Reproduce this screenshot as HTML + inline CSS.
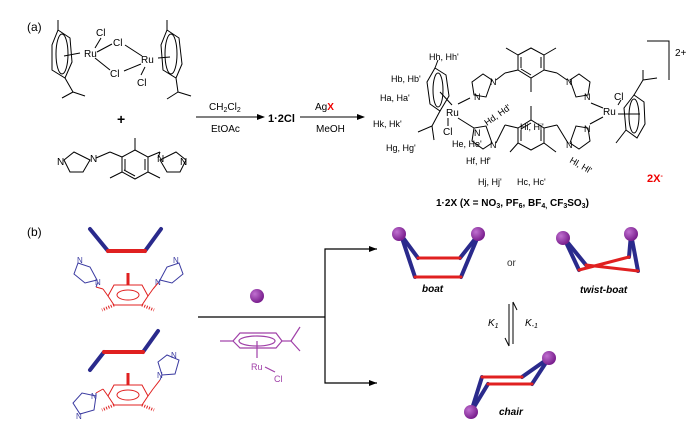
<!DOCTYPE html>
<html><head><meta charset="utf-8"><style>
html,body{margin:0;padding:0;background:#fff;}
svg{display:block;font-family:"Liberation Sans",Arial,sans-serif;}
</style></head><body>
<svg width="700" height="429" viewBox="0 0 700 429" xmlns="http://www.w3.org/2000/svg">
<defs>
<marker id="ah" markerWidth="8" markerHeight="6" refX="7" refY="3" orient="auto"><path d="M0,0 L8,3 L0,6 z" fill="#000"/></marker>
<radialGradient id="ball" cx="35%" cy="35%" r="65%"><stop offset="0" stop-color="#c070d0"/><stop offset="1" stop-color="#7a1f8e"/></radialGradient>
</defs>
<g fill="none" stroke="#000" stroke-width="1">
<polygon points="58,30 70,38 72,62 65,78 52,70 52,45"/>
<ellipse cx="62" cy="54" rx="6" ry="20"/>
<line x1="58" y1="30" x2="58" y2="20"/><line x1="65" y1="78" x2="73" y2="92"/><line x1="73" y1="92" x2="62" y2="98"/><line x1="73" y1="92" x2="85" y2="96"/>
<line x1="64" y1="56" x2="80" y2="53"/>
<line x1="95" y1="48" x2="101" y2="38"/><line x1="97" y1="52" x2="112" y2="44"/><line x1="95" y1="58" x2="110" y2="70"/>
<line x1="125" y1="45" x2="142" y2="56"/><line x1="124" y1="71" x2="141" y2="64"/><line x1="145" y1="67" x2="141" y2="75"/>
<polygon points="167,30 179,38 182,64 176,78 163,70 161,45"/>
<ellipse cx="171" cy="54" rx="6" ry="20"/>
<line x1="167" y1="30" x2="167" y2="20"/><line x1="176" y1="78" x2="178" y2="92"/><line x1="178" y1="92" x2="167" y2="99"/><line x1="178" y1="92" x2="191" y2="96"/>
<line x1="158" y1="58" x2="170" y2="57"/>
<polygon points="122,157 135,150 148,157 148,172 135,179 122,172"/>
<line x1="125" y1="159" x2="125" y2="170"/><line x1="145" y1="159" x2="145" y2="170"/><line x1="135" y1="176" x2="124" y2="170"/>
<line x1="135" y1="150" x2="135" y2="138"/><line x1="122" y1="172" x2="110" y2="178"/><line x1="148" y1="172" x2="160" y2="178"/>
<line x1="122" y1="157" x2="110" y2="152"/><line x1="110" y1="152" x2="96" y2="158"/>
<line x1="148" y1="157" x2="160" y2="152"/><line x1="160" y1="152" x2="158" y2="158"/>
<polygon points="90,160 83,172 70,172 64,160 74,152"/>
<polygon points="160,160 167,172 180,172 186,160 176,152"/>
<line x1="196" y1="117" x2="264" y2="117" marker-end="url(#ah)"/>
<line x1="300" y1="117" x2="364" y2="117" marker-end="url(#ah)"/>
<polygon points="435,68 446,75 449,96 440,111 430,104 427,82"/>
<ellipse cx="438" cy="90" rx="5" ry="17"/>
<line x1="435" y1="68" x2="438" y2="60"/><line x1="440" y1="111" x2="432" y2="126"/><line x1="432" y1="126" x2="418" y2="132"/><line x1="432" y1="126" x2="434" y2="140"/>
<line x1="440" y1="92" x2="452" y2="105"/>
<line x1="458" y1="104" x2="470" y2="98"/><line x1="458" y1="118" x2="474" y2="128"/><line x1="448" y1="118" x2="448" y2="126"/>
<polygon points="518,55 531,48 544,55 544,70 531,78 518,70"/>
<line x1="521" y1="57" x2="521" y2="68"/><line x1="541" y1="57" x2="541" y2="68"/><line x1="531" y1="75" x2="521" y2="69"/>
<line x1="518" y1="55" x2="506" y2="48"/><line x1="544" y1="55" x2="556" y2="48"/><line x1="531" y1="78" x2="531" y2="92"/>
<line x1="518" y1="70" x2="505" y2="73"/><line x1="505" y1="73" x2="496" y2="80"/><line x1="544" y1="70" x2="557" y2="73"/><line x1="557" y1="73" x2="567" y2="80"/>
<polygon points="492,80 486,97 474,95 472,82 483,74"/>
<polygon points="570,80 576,97 588,95 590,82 579,74"/>
<polygon points="492,143 486,126 474,128 472,141 483,149"/>
<polygon points="570,143 576,126 588,128 590,141 579,149"/>
<polygon points="518,128 531,120 544,128 544,143 531,150 518,143"/>
<line x1="521" y1="130" x2="521" y2="141"/><line x1="541" y1="130" x2="541" y2="141"/><line x1="531" y1="123" x2="521" y2="129"/>
<line x1="531" y1="120" x2="531" y2="106"/><line x1="518" y1="143" x2="510" y2="152"/><line x1="544" y1="143" x2="556" y2="152"/>
<line x1="518" y1="128" x2="505" y2="125"/><line x1="505" y1="125" x2="496" y2="143"/><line x1="544" y1="128" x2="557" y2="125"/><line x1="557" y1="125" x2="568" y2="143"/>
<line x1="591" y1="103" x2="603" y2="108"/><line x1="590" y1="124" x2="603" y2="117"/>
<polygon points="634,95 644,102 645,124 637,138 626,130 624,108"/>
<ellipse cx="634" cy="116" rx="5" ry="17"/>
<line x1="634" y1="95" x2="643" y2="80"/><line x1="643" y1="80" x2="643" y2="70"/><line x1="643" y1="80" x2="657" y2="78"/>
<line x1="626" y1="130" x2="616" y2="143"/><line x1="618" y1="114" x2="640" y2="114"/>
<polyline points="647,41 669,41 669,80"/>
<line x1="618" y1="105" x2="621" y2="100"/>
<line x1="198" y1="317" x2="325" y2="317" stroke-width="1.2"/>
<polyline points="377,249 325,249 325,383 377,383" stroke-width="1.2"/>
<line x1="325" y1="249" x2="376" y2="249" marker-end="url(#ah)"/>
<line x1="325" y1="383" x2="376" y2="383" marker-end="url(#ah)"/>
<line x1="509" y1="304" x2="509" y2="346"/><path d="M509,346 L505,338"/>
<line x1="513" y1="302" x2="513" y2="344"/><path d="M513,302 L517,310"/>
</g>
<!-- (b) ligands -->
<g fill="none" stroke="#e02020" stroke-width="1">
<polygon points="114,285 142,285 148,296 142,305 114,305 108,296"/>
<ellipse cx="128" cy="295" rx="11" ry="5"/>
<line x1="108" y1="296" x2="103" y2="289"/><line x1="103" y1="289" x2="96" y2="287"/>
<line x1="148" y1="296" x2="153" y2="289"/><line x1="153" y1="289" x2="158" y2="283"/>
<line x1="128" y1="285" x2="128" y2="273" stroke-width="3"/>
<line x1="114" y1="305" x2="102" y2="310" stroke-dasharray="1,1.5" stroke-width="3"/>
<line x1="142" y1="305" x2="154" y2="310" stroke-dasharray="1,1.5" stroke-width="3"/>
<polygon points="114,385 142,385 148,396 142,405 114,405 108,396"/>
<ellipse cx="128" cy="395" rx="11" ry="5"/>
<line x1="108" y1="396" x2="103" y2="389"/><line x1="103" y1="389" x2="96" y2="393"/>
<line x1="148" y1="396" x2="153" y2="389"/><line x1="153" y1="389" x2="160" y2="380"/>
<line x1="128" y1="385" x2="128" y2="373" stroke-width="3"/>
<line x1="114" y1="405" x2="102" y2="410" stroke-dasharray="1,1.5" stroke-width="3"/>
<line x1="142" y1="405" x2="154" y2="410" stroke-dasharray="1,1.5" stroke-width="3"/>
</g>
<g fill="none" stroke="#3a3aa0" stroke-width="1">
<line x1="96" y1="287" x2="98" y2="282"/>
<polygon points="97,280 90,267 78,263 74,274 85,283"/>
<line x1="158" y1="283" x2="160" y2="280"/>
<polygon points="160,280 167,267 179,263 183,274 172,283"/>
<line x1="160" y1="380" x2="162" y2="375"/>
<polygon points="162,375 158,362 167,355 179,360 175,374"/>
<line x1="96" y1="393" x2="96" y2="396"/>
<polygon points="96,396 82,393 73,403 80,414 94,410"/>
</g>
<!-- purple Ru arene -->
<g fill="none" stroke="#a040a8" stroke-width="1.2">
<polygon points="240,333 276,333 282,341 276,348 240,348 233,341"/>
<ellipse cx="257" cy="341" rx="18" ry="5"/>
<line x1="233" y1="341" x2="220" y2="341"/>
<line x1="282" y1="341" x2="291" y2="341"/><line x1="291" y1="341" x2="300" y2="327"/><line x1="291" y1="341" x2="300" y2="351"/>
<line x1="257" y1="341" x2="257" y2="358"/>
<line x1="265" y1="367" x2="275" y2="372"/>
</g>
<circle cx="257" cy="296" r="7" fill="url(#ball)"/>
<g font-size="10" fill="#000">
<text x="27" y="31" font-size="12">(a)</text>
<text x="84" y="57">Ru</text><text x="96" y="36">Cl</text><text x="113" y="46">Cl</text><text x="110" y="77">Cl</text><text x="137" y="86">Cl</text><text x="141" y="63">Ru</text>
<text x="117" y="124" font-size="14" font-weight="bold">+</text>
<text x="90" y="162">N</text><text x="57" y="165">N</text><text x="157" y="162">N</text><text x="180" y="165">N</text>
<text x="209" y="110">CH<tspan font-size="7" dy="2">2</tspan><tspan dy="-2">Cl</tspan><tspan font-size="7" dy="2">2</tspan></text>
<text x="211" y="132">EtOAc</text>
<text x="268" y="122" font-weight="bold" font-size="11">1·2Cl</text>
<text x="315" y="110">Ag<tspan fill="#e00" font-weight="bold">X</tspan></text>
<text x="316" y="132">MeOH</text>
<g font-size="9">
<text x="429" y="60">Hh, Hh'</text><text x="391" y="82">Hb, Hb'</text><text x="380" y="101">Ha, Ha'</text><text x="373" y="127">Hk, Hk'</text><text x="386" y="151">Hg, Hg'</text>
<text x="452" y="147">He, He'</text><text x="466" y="164">Hf, Hf'</text><text x="478" y="185">Hj, Hj'</text><text x="517" y="185">Hc, Hc'</text><text x="520" y="130">Hi, Hi'</text>
<text x="487" y="126" transform="rotate(-35 487 126)">Hd, Hd'</text>
<text x="569" y="162" transform="rotate(30 569 162)">Hl, Hl'</text>
</g>
<text x="446" y="116">Ru</text><text x="443" y="135">Cl</text><text x="603" y="115">Ru</text><text x="614" y="100">Cl</text>
<text x="490" y="85" font-size="9">N</text><text x="474" y="100" font-size="9">N</text><text x="566" y="85" font-size="9">N</text><text x="584" y="100" font-size="9">N</text>
<text x="474" y="136" font-size="9">N</text><text x="490" y="148" font-size="9">N</text><text x="584" y="132" font-size="9">N</text><text x="566" y="148" font-size="9">N</text>
<text x="675" y="56" font-size="10">2+</text>
<text x="647" y="182" fill="#e00" font-weight="bold" font-size="11">2X<tspan font-size="7" dy="-4">-</tspan></text>
<text x="436" y="206" font-weight="bold" font-size="10">1·2X (X = NO<tspan font-size="7" dy="2">3</tspan><tspan dy="-2">, PF</tspan><tspan font-size="7" dy="2">6</tspan><tspan dy="-2">, BF</tspan><tspan font-size="7" dy="2">4,</tspan><tspan dy="-2"> CF</tspan><tspan font-size="7" dy="2">3</tspan><tspan dy="-2">SO</tspan><tspan font-size="7" dy="2">3</tspan><tspan dy="-2">)</tspan></text>
<text x="27" y="236" font-size="12">(b)</text>
<text x="422" y="292" font-style="italic" font-weight="bold">boat</text>
<text x="507" y="266" fill="#333">or</text>
<text x="580" y="293" font-style="italic" font-weight="bold">twist-boat</text>
<text x="488" y="326" font-style="italic">K<tspan font-size="7" dy="2">1</tspan></text>
<text x="525" y="326" font-style="italic">K<tspan font-size="7" dy="2">-1</tspan></text>
<text x="499" y="415" font-style="italic" font-weight="bold">chair</text>
</g>
<g font-size="8" fill="#3a3aa0">
<text x="77" y="263">N</text><text x="95" y="285">N</text><text x="173" y="263">N</text><text x="155" y="285">N</text>
<text x="171" y="358">N</text><text x="157" y="378">N</text><text x="91" y="399">N</text><text x="76" y="419">N</text>
</g>
<g font-size="9" fill="#a040a8"><text x="251" y="370">Ru</text><text x="274" y="382">Cl</text></g>
<g stroke-width="4" stroke-linecap="round" fill="none">
<polyline points="90,229 108,251" stroke="#2a2a8c"/><polyline points="145,251 161,229" stroke="#2a2a8c"/><line x1="108" y1="251" x2="145" y2="251" stroke="#e02020"/>
<polyline points="90,370 104,352" stroke="#2a2a8c"/><polyline points="143,352 158,331" stroke="#2a2a8c"/><line x1="104" y1="352" x2="143" y2="352" stroke="#e02020"/>
<line x1="401" y1="235" x2="418" y2="258" stroke="#2a2a8c"/><line x1="401" y1="235" x2="415" y2="277" stroke="#2a2a8c"/>
<line x1="479" y1="234" x2="460" y2="258" stroke="#2a2a8c"/><line x1="479" y1="234" x2="461" y2="277" stroke="#2a2a8c"/>
<line x1="418" y1="258" x2="460" y2="258" stroke="#e02020" stroke-width="3"/><line x1="415" y1="277" x2="461" y2="277" stroke="#e02020" stroke-width="3"/>
<line x1="564" y1="238" x2="586" y2="265" stroke="#2a2a8c"/><line x1="564" y1="238" x2="579" y2="270" stroke="#2a2a8c"/>
<line x1="631" y1="234" x2="629" y2="257" stroke="#2a2a8c"/><line x1="631" y1="234" x2="638" y2="271" stroke="#2a2a8c"/>
<line x1="586" y1="265" x2="638" y2="271" stroke="#e02020" stroke-width="3"/><line x1="579" y1="270" x2="629" y2="257" stroke="#e02020" stroke-width="3"/>
<line x1="549" y1="358" x2="522" y2="377" stroke="#2a2a8c"/><line x1="549" y1="358" x2="532" y2="384" stroke="#2a2a8c"/>
<line x1="471" y1="412" x2="482" y2="377" stroke="#2a2a8c"/><line x1="471" y1="412" x2="488" y2="384" stroke="#2a2a8c"/>
<line x1="482" y1="377" x2="522" y2="377" stroke="#e02020" stroke-width="3"/><line x1="488" y1="384" x2="532" y2="384" stroke="#e02020" stroke-width="3"/>
</g>
<g fill="url(#ball)">
<circle cx="399" cy="234" r="7"/><circle cx="478" cy="234" r="7"/>
<circle cx="563" cy="238" r="7"/><circle cx="631" cy="234" r="7"/>
<circle cx="549" cy="358" r="7"/><circle cx="471" cy="412" r="7"/>
</g>
</svg>
</body></html>
